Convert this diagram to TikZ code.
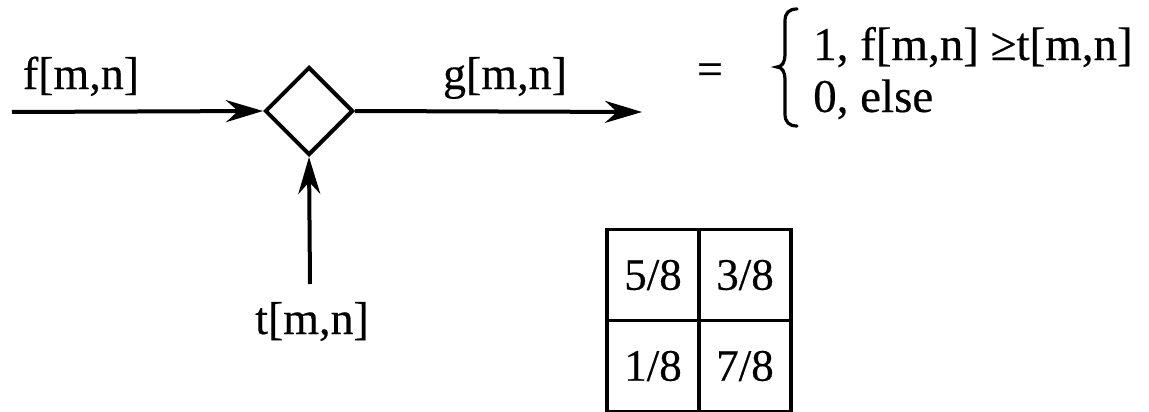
\documentclass[tikz,border=0pt]{standalone}
\usepackage{fontspec}
\setmainfont{Liberation Serif}
\newfontface\hv{Liberation Serif}[FakeBold=0.4]
\usetikzlibrary{arrows.meta,shapes.geometric}
\tikzset{
  lbl/.style={font=\hv\fontsize{46}{50}\selectfont, inner sep=0pt, anchor=base},
  rowtxt/.style={font=\hv\fontsize{47}{50}\selectfont, inner sep=0pt, anchor=base west},
  conn/.style={line width=4pt, -{Stealth[length=37pt,width=22pt,inset=12pt]}},
  cell/.style={draw, line width=3.5pt, minimum width=92pt, minimum height=91pt, inner sep=0pt, font=\hv\fontsize{45}{50}\selectfont},
  cmp/.style={diamond, draw, line width=4pt, minimum width=88pt, minimum height=88pt, inner sep=0pt, aspect=1},
  bracepath/.style={line width=3.2pt, line cap=round}
}
\begin{document}
\begin{tikzpicture}[x=1pt,y=-1pt]
\useasboundingbox (0,0) rectangle (1149,412);
\node[cmp] (d) at (309,111) {};
\coordinate (fin) at (12,112);
\coordinate (gout) at (642,112);
\coordinate (tin) at (310,284);
\draw[conn] (fin) -- (d.west);
\draw[conn] (d.east) -- (gout);
\draw[conn] (tin) -- (d.south);
\node[lbl] (f) at (81,89) {f[m,n]};
\node[lbl] (g) at (505,89) {g[m,n]};
\node[lbl] (t) at (312,334) {t[m,n]};
\node[lbl, anchor=center] (eq) at (710,74) {=};
\draw[bracepath] (797,9) .. controls (789,9) and (785,13) .. (785,21) -- (785,55)
  .. controls (785,62) and (782,67) .. (777,67)
  .. controls (782,67) and (785,72) .. (785,79) -- (785,114)
  .. controls (785,122) and (789,126) .. (797,126);
\node[rowtxt] (r1) at (813,60) {1, f[m,n] ≥t[m,n]};
\node[rowtxt] (r2) at (813,112) {0, else};
\node[cell] (c11) at (653,275) {5/8};
\node[cell] (c12) at (745,275) {3/8};
\node[cell] (c21) at (653,366) {1/8};
\node[cell] (c22) at (745,366) {7/8};
\end{tikzpicture}
\end{document}
